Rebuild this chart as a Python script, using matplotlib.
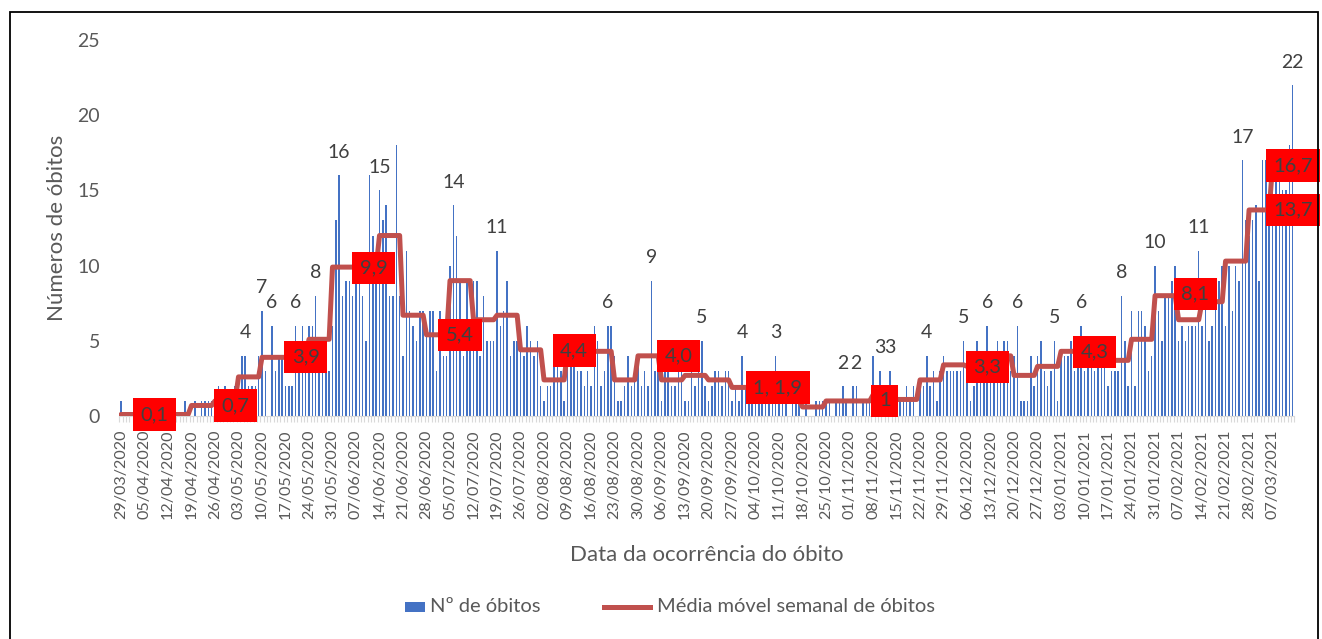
import numpy as np
import matplotlib
matplotlib.use("Agg")
import matplotlib.pyplot as plt
from matplotlib.patches import Rectangle
from matplotlib.lines import Line2D
import datetime as dt

# daily deaths, one row per week (week starting on the date in the comment)
deaths = [
    1, 0, 0, 0, 0, 0, 0,        # 29/03/2020
    0, 0, 0, 0, 0, 0, 0,        # 05/04
    0, 0, 0, 0, 0, 1, 0,        # 12/04
    0, 1, 0, 1, 1, 1, 1,        # 19/04
    0, 2, 1, 2, 0, 0, 2,        # 26/04
    0, 4, 4, 2, 2, 2, 4,        # 03/05
    7, 3, 0, 6, 3, 4, 4,        # 10/05
    2, 2, 2, 6, 4, 6, 5,        # 17/05
    6, 6, 8, 4, 5, 4, 3,        # 24/05
    6, 13, 16, 8, 9, 9, 8,      # 31/05
    9, 9, 8, 5, 16, 12, 10,     # 07/06
    15, 13, 14, 8, 8, 18, 8,    # 14/06
    4, 11, 7, 6, 5, 7, 7,       # 21/06
    6, 7, 7, 3, 7, 4, 4,        # 28/06
    10, 14, 12, 9, 4, 9, 5,     # 05/07
    9, 9, 4, 8, 5, 5, 5,        # 12/07
    11, 6, 7, 9, 4, 5, 5,       # 19/07
    5, 4, 6, 5, 4, 5, 2,        # 26/07
    1, 2, 2, 4, 4, 3, 1,        # 02/08
    4, 5, 5, 3, 3, 2, 3,        # 09/08
    2, 6, 5, 2, 3, 6, 6,        # 16/08
    4, 1, 1, 2, 4, 2, 3,        # 23/08
    4, 2, 3, 2, 9, 3, 5,        # 30/08
    1, 3, 3, 2, 2, 3, 3,        # 06/09
    1, 1, 3, 2, 5, 5, 2,        # 13/09
    1, 2, 3, 3, 2, 3, 3,        # 20/09
    1, 2, 1, 4, 2, 1, 2,        # 27/09
    2, 1, 2, 1, 2, 1, 4,        # 04/10
    1, 2, 1, 0, 1, 1, 1,        # 11/10
    0, 1, 0, 0, 1, 1, 1,        # 18/10
    1, 1, 0, 1, 1, 2, 1,        # 25/10
    0, 2, 2, 0, 1, 1, 1,        # 01/11
    4, 0, 3, 0, 0, 3, 1,        # 08/11
    1, 1, 1, 2, 1, 2, 0,        # 15/11
    2, 2, 4, 2, 3, 1, 3,        # 22/11
    4, 3, 3, 3, 3, 3, 5,        # 29/11
    3, 1, 2, 5, 3, 3, 6,        # 06/12
    4, 3, 5, 3, 5, 5, 3,        # 13/12
    4, 6, 1, 1, 1, 4, 2,        # 20/12
    4, 5, 3, 2, 3, 5, 1,        # 27/12
    4, 4, 4, 5, 3, 4, 6,        # 03/01/2021
    3, 4, 4, 3, 4, 4, 4,        # 10/01
    2, 3, 3, 3, 8, 5, 2,        # 17/01
    7, 2, 7, 7, 6, 3, 4,        # 24/01
    10, 7, 5, 8, 8, 9, 10,      # 31/01
    5, 6, 5, 6, 6, 6, 11,       # 07/02
    6, 9, 5, 6, 8, 9, 10,       # 14/02
    6, 10, 7, 10, 9, 17, 13,    # 21/02
    12, 13, 14, 9, 17, 17, 14,  # 28/02
    15, 16, 16, 15, 15, 18, 22, # 07/03
]

# weekly moving average (one value per week)
weekly_avg = [
    0.1, 0.1, 0.1, 0.7, 1.0, 2.6, 3.9, 3.9, 5.1, 9.9,
    9.9, 12.0, 6.7, 5.4, 9.0, 6.4, 6.7, 4.4, 2.4, 4.4,
    4.3, 2.4, 4.0, 2.4, 2.7, 2.4, 1.9, 1.9, 1.0, 0.6,
    1.0, 1.0, 1.4, 1.1, 2.4, 3.4, 3.3, 4.0, 2.7, 3.3,
    4.3, 3.7, 3.7, 5.1, 8.0, 6.4, 7.6, 10.3, 13.7, 16.7,
]

# data labels above bars: (day index, text)
bar_labels = [
    (37, "4"), (42, "7"), (45, "6"), (52, "6"), (58, "8"), (65, "16"),
    (77, "15"), (99, "14"), (112, "11"), (145, "6"), (158, "9"),
    (173, "5"), (185, "4"), (195, "3"), (215, "2"), (219, "2"),
    (226, "3"), (229, "3"), (240, "4"), (251, "5"), (258, "6"),
    (267, "6"), (278, "5"), (286, "6"), (298, "8"), (308, "10"),
    (321, "11"), (334, "17"), (349, "22"),
]

# red boxes with the weekly average: (day, value, text)
avg_boxes = [
    (10, 0.1, "0,1"), (34, 0.7, "0,7"), (55, 3.9, "3,9"), (75.3, 9.85, "9,9"),
    (101, 5.4, "5,4"), (135, 4.35, "4,4"), (166, 4.0, "4,0"),
    (195.6, 1.9, "1, 1,9"), (227.5, 1.0, "1"), (258, 3.25, "3,3"),
    (290, 4.25, "4,3"), (320, 8.1, "8,1"), (349.1, 16.65, "16,7"),
    (349.1, 13.7, "13,7"),
]

start = dt.date(2020, 3, 29)
n_days = len(deaths)
days = np.arange(n_days)
tick_days = np.arange(0, n_days, 7)
tick_labels = [(start + dt.timedelta(days=int(d))).strftime("%d/%m/%Y") for d in tick_days]
avg_daily = np.repeat(weekly_avg, 7)[:n_days]

plt.rcParams["font.family"] = ["Lato", "DejaVu Sans"]
W, H = 1322, 639
fig = plt.figure(figsize=(W / 100, H / 100), dpi=100)
ax = fig.add_axes([119.3 / W, (H - 416) / H, 1175.1 / W, 376 / H])

BLUE = "#4472C4"
RED = "#C0504D"
GREY = "#595959"

ax.bar(days, deaths, width=0.45, color=BLUE, zorder=2)
ax.plot(days, avg_daily, color=RED, lw=3.6, solid_joinstyle="round",
        solid_capstyle="round", zorder=3)

for d, txt in bar_labels:
    ax.annotate(txt, (d, deaths[d]), xytext=(0, 16.5), textcoords="offset points",
                ha="center", va="center", fontsize=14, color="#404040", zorder=4)

for d, v, txt in avg_boxes:
    ax.text(d, v, txt, ha="center", va="center", fontsize=14.5, color="#404040",
            zorder=5, clip_on=False,
            bbox=dict(boxstyle="square,pad=0.38", fc="#FF0000", ec="none"))

ax.set_xlim(-0.5, n_days - 0.5)
ax.set_ylim(0, 25)
ax.set_yticks(range(0, 26, 5))
ax.tick_params(axis="y", length=0, pad=14, labelsize=14, labelcolor=GREY)
ax.set_xticks(tick_days)
ax.set_xticklabels(tick_labels, rotation=90, fontsize=11.6, color=GREY)
ax.set_xticks(np.arange(-0.5, n_days, 1), minor=True)
ax.tick_params(axis="x", which="major", length=0, pad=10)
ax.tick_params(axis="x", which="minor", length=4.5, color="#D9D9D9", width=0.8)
for s in ["top", "right", "left"]:
    ax.spines[s].set_visible(False)
ax.spines["bottom"].set_color("#D9D9D9")

ax.set_xlabel("Data da ocorrência do óbito", fontsize=16, color=GREY)
ax.xaxis.set_label_coords((707 - 119.3) / 1175.1, (416 - 545) / 376)
ax.set_ylabel("Números de óbitos", fontsize=16, color=GREY, va="center")
ax.yaxis.set_label_coords((57 - 119.3) / 1175.1, (416 - 228) / 376)

# legend drawn by hand to match the short square and the longer line handle
fig.add_artist(Rectangle((405 / W, 1 - 612 / H), 20 / W, 10 / H,
                         transform=fig.transFigure, fc=BLUE, ec="none"))
fig.text(430 / W, 1 - 607 / H, "Nº de óbitos", fontsize=14.5, color=GREY,
         ha="left", va="center")
fig.add_artist(Line2D([604 / W, 650 / W], [1 - 607 / H, 1 - 607 / H],
                      transform=fig.transFigure, color=RED, lw=3.6))
fig.text(657 / W, 1 - 607 / H, "Média móvel semanal de óbitos", fontsize=14.5,
         color=GREY, ha="left", va="center")

fig.add_artist(Rectangle((10 / W, -0.1), 1308 / W, 1 - 12 / H + 0.1,
                         transform=fig.transFigure, fill=False, ec="black", lw=1.3))

fig.savefig("out.png", dpi=100)
